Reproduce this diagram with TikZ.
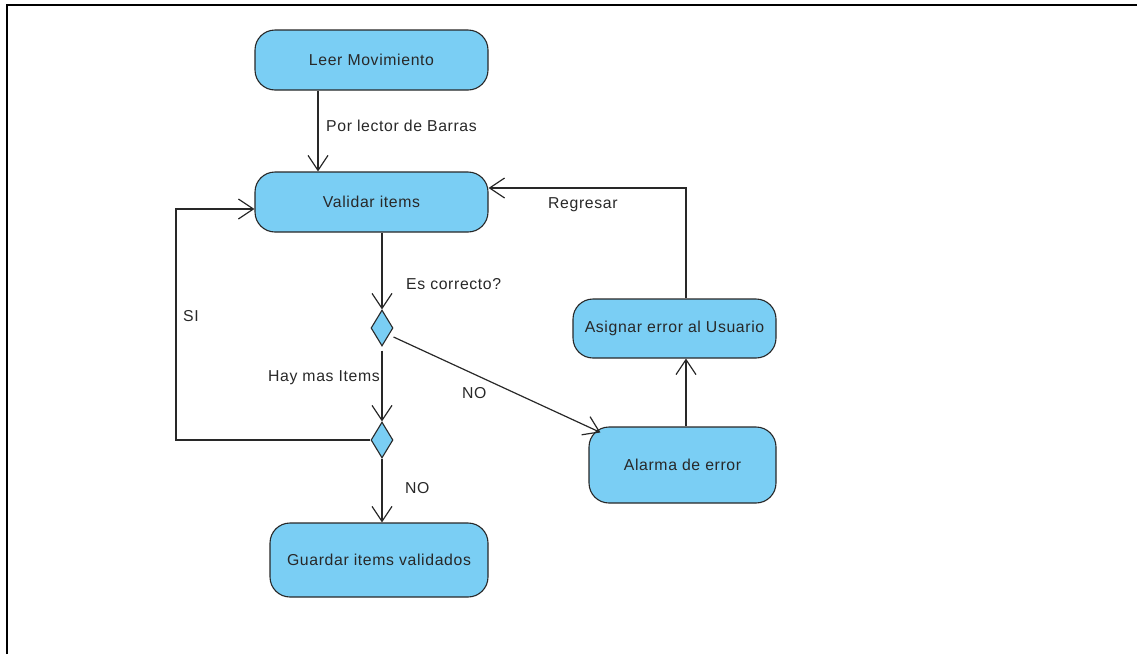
\documentclass[tikz,border=0pt]{standalone}
\usepackage{fontspec}
\setmainfont{Liberation Sans}[LetterSpace=4]
\usetikzlibrary{arrows.meta,shapes.geometric,calc}
\definecolor{actfill}{RGB}{122,206,244}
\definecolor{ink}{RGB}{40,40,40}
\begin{document}
\begin{tikzpicture}[x=1pt,y=-1pt,
  every node/.style={font=\fontsize{15.8}{18}\selectfont, text=ink},
  action/.style={draw=ink, fill=actfill, line width=1.1pt, rounded corners=20pt,
    inner sep=0pt, anchor=center},
  decision/.style={draw=ink, fill=actfill, line width=1.1pt, diamond, shape aspect=0.6,
    minimum width=22pt, minimum height=36pt, inner sep=0pt},
  flow/.style={draw=ink, line width=1.2pt,
    -{Straight Barb[length=15pt,width=20pt,line width=1.2pt]}},
  lbl/.style={inner sep=0pt, anchor=west}
]
% page frame
\useasboundingbox (0,0) rectangle (1137,654);
\draw[line width=2pt] (7,654) -- (7,5) -- (1137,5);

% activities
\node[action, minimum width=233pt, minimum height=60pt] (lm) at (371.5,60) {Leer Movimiento};
\node[action, minimum width=233pt, minimum height=60pt] (vi) at (371.5,202) {Validar items};
\node[action, minimum width=218pt, minimum height=74pt] (gi) at (379,560) {Guardar items validados};
\node[action, minimum width=187pt, minimum height=76pt] (al) at (682.5,465) {Alarma de error};
\node[action, minimum width=203pt, minimum height=59pt] (as) at (674.5,328.5) {Asignar error al Usuario};

% decisions
\node[decision] (d1) at (382,328) {};
\node[decision] (d2) at (382,440) {};

% connectors
\draw[flow] ($(lm.south)+(-53.5,0)$) -- ($(vi.north)+(-53.5,0)$);
\draw[flow] (vi.south -| d1.north) -- (d1.north);
\draw[flow] ($(d1.south)+(0,4)$) -- (d2.north);
\draw[flow] (d2.south) -- (d2.south |- gi.north);
\draw[flow] (d2.west) -- (176,440) -- (176,209) -- ($(vi.west)+(0,7)$);
\draw[flow] ($(d1.east)+(0,9)$) -- ($(al.north west)+(12,6)$);
\draw[flow] (al.north -| 686,0) -- (as.south -| 686,0);
\draw[flow] (as.north -| 686,0) -- (686,188) -- ($(vi.east)+(0,-14)$);

% labels
\node[lbl] (t1) at (326,126) {Por lector de Barras};
\node[lbl] (t2) at (406,284) {Es correcto?};
\node[lbl] (t3) at (183,316) {SI};
\node[lbl, anchor=east] (t4) at (380,378) {Hay mas Items};
\node[lbl] (t5) at (462,393) {NO};
\node[lbl] (t6) at (405,488) {NO};
\node[lbl] (t7) at (548,205) {Regresar};
\end{tikzpicture}
\end{document}
